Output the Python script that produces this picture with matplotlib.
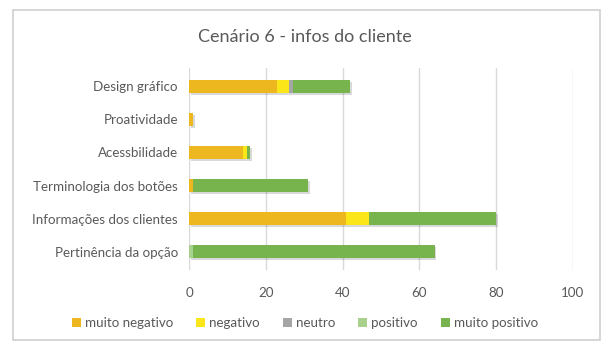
import matplotlib
matplotlib.use("Agg")
import matplotlib.pyplot as plt
import matplotlib.patheffects as pe
from matplotlib.patches import Rectangle, Patch
import numpy as np

plt.rcParams["font.family"] = ["Lato", "DejaVu Sans"]

categorias = ["Design gráfico", "Proatividade", "Acessbilidade",
              "Terminologia dos botões", "Informações dos clientes", "Pertinência da opção"]
series = ["muito negativo", "negativo", "neutro", "positivo", "muito positivo"]
muito_negativo = [23, 1, 14, 1, 41, 0]
negativo = [3, 0, 1, 0, 6, 0]
neutro = [1, 0, 0, 0, 0, 0]
positivo = [0, 0, 0, 0, 0, 1]
muito_positivo = [15, 0, 1, 30, 33, 63]
valores = [muito_negativo, negativo, neutro, positivo, muito_positivo]
cores = ["#EDB81F", "#FBE61A", "#A5A5A5", "#A9D18E", "#77B44D"]

TXT = "#595959"
fig = plt.figure(figsize=(6.10, 3.56), dpi=100)
fig.patch.set_facecolor("white")
# moldura do grafico
fig.add_artist(Rectangle((13/610, 1-340/356), 587/610, 330/356, transform=fig.transFigure,
                         fill=False, edgecolor="#D0D0D0", lw=1.2))
ax = fig.add_axes([189/610, 1-270/356, 384/610, 202/356])

y = np.arange(len(categorias))
esq = np.zeros(len(categorias))
sombra = [pe.SimplePatchShadow(offset=(1.2, -1.5), shadow_rgbFace="#000000", alpha=0.15), pe.Normal()]
for s, v, c in zip(series, valores, cores):
    v = np.array(v, float)
    bars = ax.barh(y, v, left=esq, height=0.4, color=c, label=s, zorder=3)
    for b in bars:
        if b.get_width() > 0:
            b.set_path_effects(sombra)
    esq += v

ax.set_xlim(0, 100)
ax.set_ylim(len(categorias) - 0.45, -0.55)
ax.set_xticks(range(0, 101, 20))
ax.set_yticks(y)
ax.set_yticklabels(categorias)
ax.tick_params(axis="both", length=0, colors=TXT, labelsize=9.6)
ax.tick_params(axis="x", pad=12)
ax.tick_params(axis="y", pad=8)
ax.grid(axis="x", color="#D9D9D9", lw=1)
ax.set_axisbelow(True)
for sp in ax.spines.values():
    sp.set_visible(False)

fig.text(0.5, 1-37/356, "Cenário 6 - infos do cliente", ha="center", va="center", fontsize=13, color=TXT)

handles = [Patch(facecolor=c, label=s) for s, c in zip(series, cores)]
fig.legend(handles=handles, loc="center", bbox_to_anchor=(0.5, 1-323/356), ncol=5, frameon=False,
           fontsize=9.6, labelcolor=TXT, handlelength=0.7, handleheight=0.7, handletextpad=0.3,
           columnspacing=1.7)

fig.savefig("out.png", dpi=100, facecolor="white")
